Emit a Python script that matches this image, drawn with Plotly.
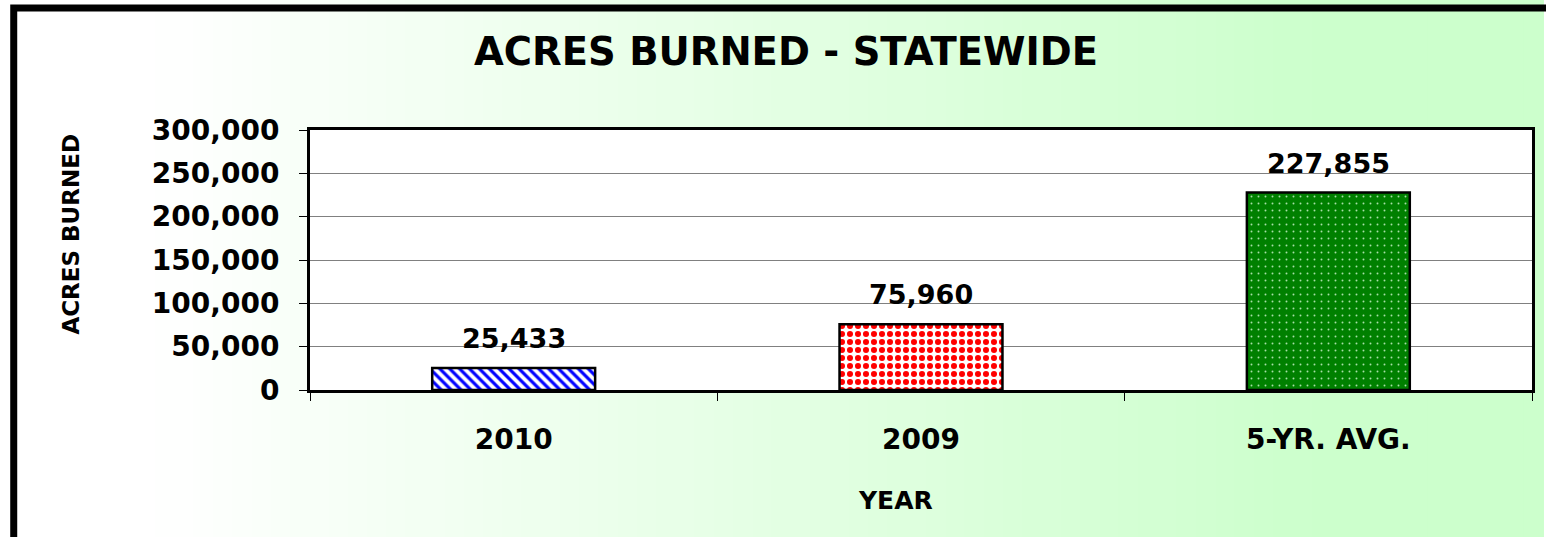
import plotly.graph_objects as go

# datos del grafico
categories = ["2010", "2009", "5-YR. AVG."]
acres = [25433, 75960, 227855]
labels = ["25,433", "75,960", "227,855"]
y_ticks = [0, 50000, 100000, 150000, 200000, 250000, 300000]

W, H = 1546, 537
L, R, T, B = 310, 11, 130, 147
PW, PH = W - L - R, H - T - B

FONT = "DejaVu Sans"


def px(x):
    # pixel -> coordenada paper en x
    return (x - L) / PW


def py(y):
    # pixel -> coordenada paper en y
    return 1 - (y - T) / PH


patterns = [
    dict(shape="\\", fgcolor="#0000FF", bgcolor="white", size=7, solidity=0.45, fgopacity=1),
    dict(shape=".", fgcolor="#FF0000", bgcolor="white", size=8, solidity=0.45, fgopacity=1),
    dict(shape=".", fgcolor="#A8E0A8", bgcolor="#008000", size=7, solidity=0.06, fgopacity=1),
]

fig = go.Figure()
for cat, val, pat in zip(categories, acres, patterns):
    fig.add_trace(go.Bar(
        x=[cat], y=[val],
        marker=dict(color=pat["bgcolor"], pattern=pat,
                    line=dict(color="black", width=2.5)),
        width=0.4, showlegend=False,
    ))

# fondo degradado blanco -> verde claro
shapes = []
n = 80
x_start, x_end = 150, 1320
for i in range(n):
    x0 = i * W / n
    x1 = (i + 1) * W / n + 1
    xm = (x0 + x1) / 2
    t = min(max((xm - x_start) / (x_end - x_start), 0), 1)
    r = round(255 - 51 * t)
    col = f"rgb({r},255,{r})"
    shapes.append(dict(type="rect", xref="paper", yref="paper", layer="below",
                       x0=px(x0), x1=px(x1), y0=py(H + 2), y1=py(-2),
                       fillcolor=col, line=dict(width=0)))
# area del grafico en blanco
shapes.append(dict(type="rect", xref="paper", yref="paper", layer="below",
                   x0=0, x1=1, y0=0, y1=1, fillcolor="white", line=dict(width=0)))
# borde exterior
shapes.append(dict(type="path", xref="paper", yref="paper", layer="above",
                   path=f"M {px(13)} {py(H + 10)} L {px(13)} {py(8)} L {px(W + 10)} {py(8)}",
                   line=dict(color="black", width=7)))

annotations = [
    dict(text="ACRES BURNED - STATEWIDE", x=px(787), y=py(52), xref="paper", yref="paper",
         xanchor="center", yanchor="middle", showarrow=False,
         font=dict(family=FONT, size=38.5, color="black", weight="bold")),
    dict(text="ACRES BURNED", x=px(70), y=py(234), xref="paper", yref="paper",
         xanchor="center", yanchor="middle", textangle=-90, showarrow=False,
         font=dict(family=FONT, size=23, color="black", weight="bold")),
    dict(text="YEAR", x=px(897), y=py(500), xref="paper", yref="paper",
         xanchor="center", yanchor="middle", showarrow=False,
         font=dict(family=FONT, size=25, color="black", weight="bold")),
]
# etiquetas de valores sobre las barras (x = indice de categoria)
for i, (val, lab) in enumerate(zip(acres, labels)):
    annotations.append(dict(
        text=lab, x=i, y=val, xref="x", yref="y", xanchor="center", yanchor="bottom",
        yshift=12, showarrow=False,
        font=dict(family=FONT, size=27, color="black", weight="bold")))

fig.update_layout(
    width=W, height=H,
    margin=dict(l=L, r=R, t=T, b=B, pad=0),
    paper_bgcolor="white", plot_bgcolor="rgba(0,0,0,0)",
    bargap=0.6, shapes=shapes, annotations=annotations,
    font=dict(family=FONT, color="black"),
)
fig.update_xaxes(
    type="category", range=[-0.5, 2.5], categoryorder="array", categoryarray=categories,
    showline=True, linecolor="black", linewidth=3, mirror=True,
    ticks="outside", tickson="boundaries", ticklen=8, tickcolor="black", tickwidth=1,
    showgrid=False, ticklabelstandoff=22, tickangle=0,
    tickfont=dict(family=FONT, size=28, color="black", weight="bold"),
)
fig.update_yaxes(
    range=[0, 300000], tickvals=y_ticks, tickformat=",",
    showline=True, linecolor="black", linewidth=3, mirror=True,
    ticks="outside", ticklen=8, tickcolor="black", tickwidth=1,
    showgrid=True, gridcolor="#808080", gridwidth=1, zeroline=False,
    ticklabelstandoff=14,
    tickfont=dict(family=FONT, size=28, color="black", weight="bold"),
)

fig.write_html("out.html", config={"displayModeBar": False},
               post_script="document.body.style.margin='0';")
